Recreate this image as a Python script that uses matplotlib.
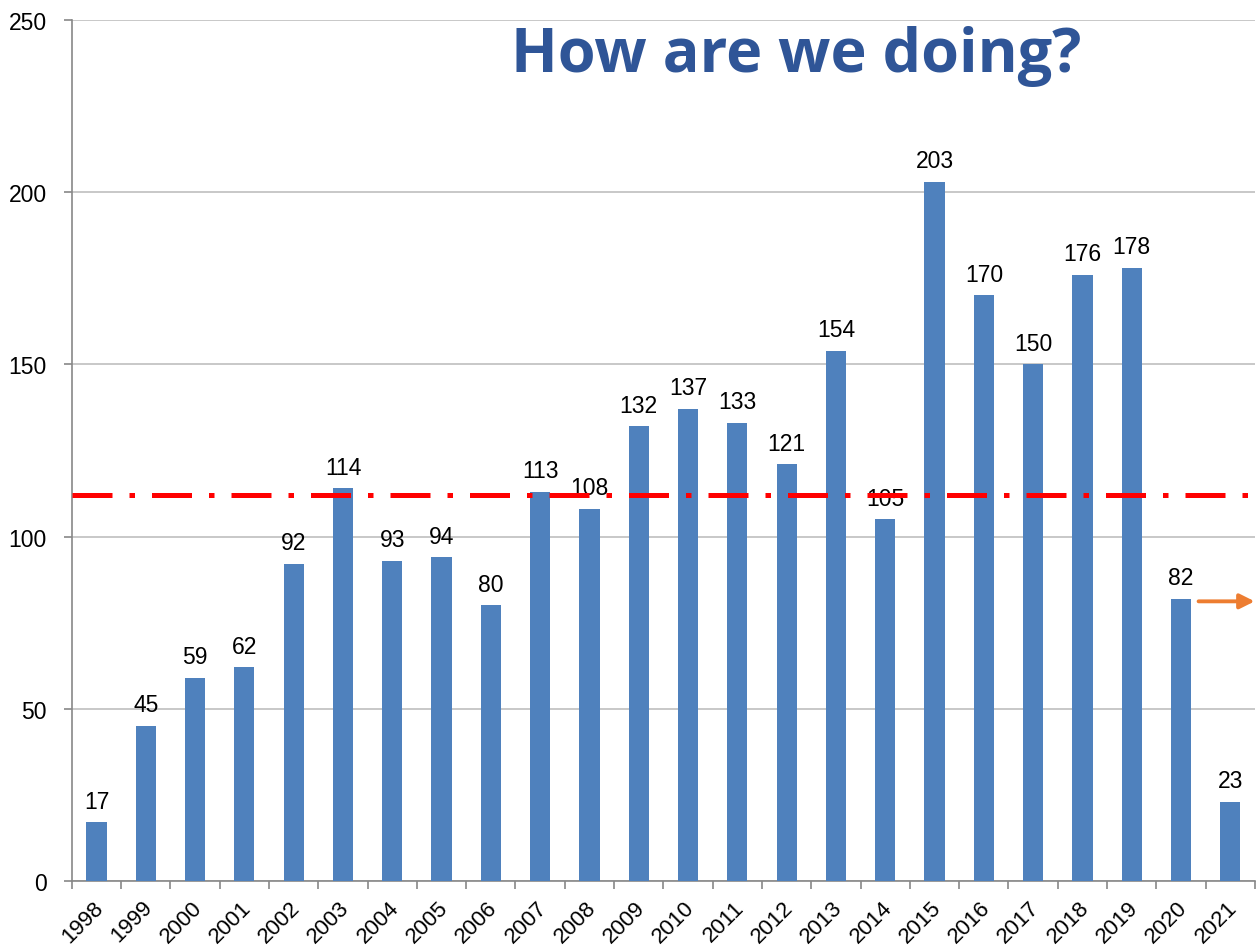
import matplotlib.pyplot as plt
import matplotlib.transforms as mtransforms
import numpy as np

years = [str(y) for y in range(1998, 2022)]
counts = [17, 45, 59, 62, 92, 114, 93, 94, 80, 113, 108, 132, 137, 133,
          121, 154, 105, 203, 170, 150, 176, 178, 82, 23]
average = 112
title = "How are we doing?"

plt.rcParams['font.family'] = ['Liberation Sans', 'DejaVu Sans']

fig = plt.figure(figsize=(12.6, 9.53), dpi=100)
ax = fig.add_axes([0.057, 0.0745, 0.939, 0.9035])

x = np.arange(len(years))
ax.bar(x, counts, width=0.41, color='#4F81BD', zorder=3)

for xi, v in zip(x, counts):
    ax.annotate(str(v), (xi, v), xytext=(0, 7), textcoords='offset points',
                ha='center', va='bottom', fontsize=16.5, zorder=4)

ax.axhline(average, color='#FF0000', lw=3.6, ls=(0, (8, 3.4, 1.1, 3.4)),
           zorder=5)

# arrow after the last full-year bar
i20 = years.index('2020')
ax.annotate('', xy=(len(years) - 0.45, counts[i20] - 0.8),
            xytext=(i20 + 0.3, counts[i20] - 0.8),
            arrowprops=dict(arrowstyle='-|>', color='#ED7D31', lw=2.8,
                            mutation_scale=22), annotation_clip=False)

ax.set_xlim(-0.5, len(years) - 0.5)
ax.set_ylim(0, 250)
ax.set_yticks(range(0, 251, 50))
ax.set_xticks(x)
ax.set_xticklabels(years, rotation=45, ha='right', rotation_mode='anchor',
                   fontsize=16)
ax.tick_params(axis='x', length=0, pad=11)
shift = mtransforms.ScaledTranslation(-4 / 100, 0, fig.dpi_scale_trans)
for lbl in ax.get_xticklabels():
    lbl.set_transform(lbl.get_transform() + shift)
ax.set_xticks(np.arange(-0.5, len(years), 1), minor=True)
ax.tick_params(axis='x', which='minor', length=6, color='#888888', width=1.2)
ax.tick_params(axis='y', labelsize=16.5, length=6, color='#888888', width=1.2,
               pad=12)
ax.grid(axis='y', color='#BFBFBF', lw=1.2, zorder=0)
for s in ['top', 'right']:
    ax.spines[s].set_visible(False)
for s in ['left', 'bottom']:
    ax.spines[s].set_color('#888888')
    ax.spines[s].set_linewidth(1.2)

fig.text(0.632, 0.941, title, ha='center', va='center', fontsize=44,
         fontweight='bold', color='#2F5597', family='Open Sans')

fig.savefig('out.png', dpi=100)
